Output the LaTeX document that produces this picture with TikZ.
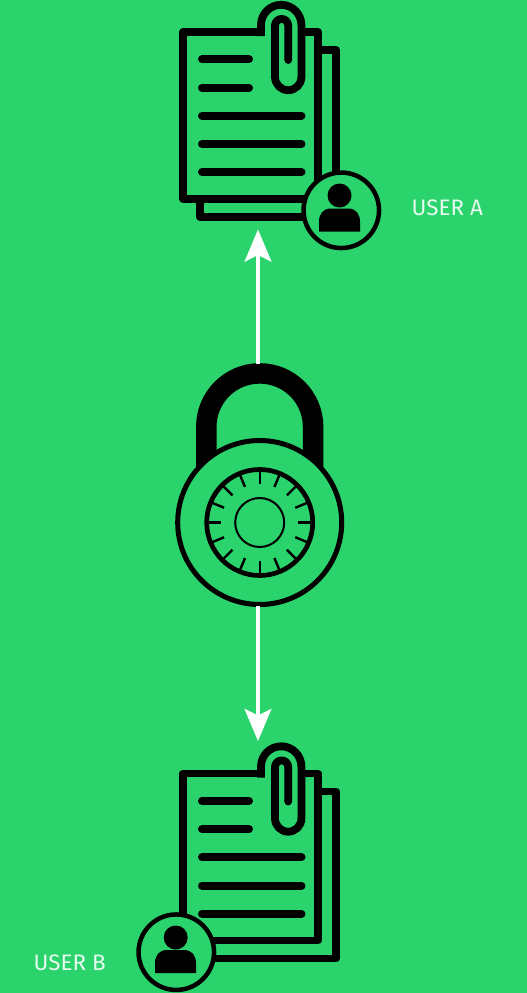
\documentclass[tikz,border=0pt]{standalone}
\usepackage{fontspec}
\setmainfont{Fira Sans}
\definecolor{bg}{HTML}{2AD36B}
\definecolor{lbl}{HTML}{E6FBEF}
\tikzset{
  ink/.style={draw=black,line width=7.5pt,fill=none},
  textline/.style={draw=black,line width=8pt,line cap=round},
  clipwire/.style={draw=black,line width=7.8pt,line join=round},
  badge/.style={circle,draw=black,line width=4.5pt,fill=bg,minimum size=75.5pt,inner sep=0pt},
  headdot/.style={circle,fill=black,minimum size=24pt,inner sep=0pt},
  userlabel/.style={text=lbl,font=\fontsize{22.4}{24}\selectfont,inner sep=0pt},
  flow/.style={draw=white,line width=3.4pt},
  tip/.style={fill=white,draw=none},
  dial/.style={circle,draw=black,fill=bg,inner sep=0pt},
  tick/.style={draw=black,line width=2.4pt}
}
% document icon, #1 = vertical shift
\newcommand{\docicon}[1]{%
  \begin{scope}[yshift=-#1pt]
    % back page
    \draw[ink,line join=round] (318,50) -- (336,50) -- (336,217) -- (200,217) -- (200,199);
    % front page
    \fill[bg] (183,32) rectangle (318,199);
    \draw[ink,line join=round] (261,32) -- (183,32) -- (183,199) -- (318,199) -- (318,32) -- (301,32);
    % text lines
    \draw[textline] (202,59.3) -- (249,59.3);
    \draw[textline] (202,87.7) -- (249,87.7);
    \draw[textline] (202,115.7) -- (301.5,115.7);
    \draw[textline] (202,144) -- (301.5,144);
    \draw[textline] (202,172.3) -- (301.5,172.3);
    % paper clip
    \fill[bg] (265,28) rectangle (297.5,36);
    \draw[clipwire] (261,36) -- (261,25) arc[start angle=180,end angle=360,radius=20.2]
      -- (301.4,77) arc[start angle=0,end angle=180,radius=13.2] -- (275,25.5)
      arc[start angle=180,end angle=360,radius=6.6] -- (288.2,60);
    \fill[black] (288.2,60) circle[radius=3.9];
  \end{scope}%
}
\begin{document}
\begin{tikzpicture}[x=1pt,y=-1pt]
  \useasboundingbox (0,0) rectangle (527,993);
  \fill[bg] (0,0) rectangle (527,993);

  % documents
  \docicon{0}
  \docicon{741.5}
  \node[badge] (badgeA) at (341.3,210.3) {};
  \node[badge] (badgeB) at (176.3,952.2) {};
  % people
  \node[headdot] (headA) at (339.5,195.5) {};
  \fill[black] (319,231.7) -- (319,222) .. controls (319,214) and (323,208.5) .. (331,208.5)
     -- (348,208.5) .. controls (356,208.5) and (360,214) .. (360,222) -- (360,231.7) -- cycle;
  \node[headdot] (headB) at (175.7,937.5) {};
  \fill[black] (155,973.2) -- (155,963.5) .. controls (155,955.5) and (159,950) .. (167,950)
     -- (184,950) .. controls (192,950) and (196,955.5) .. (196,963.5) -- (196,973.2) -- cycle;

  % labels
  \node[userlabel,anchor=west] (labelA) at (411.5,207.7) {USER A};
  \node[userlabel,anchor=west] (labelB) at (33.5,962.7) {USER B};

  % padlock
  \draw[black,line width=20.5pt] (206.3,480) -- (206.3,426.8)
     arc[start angle=180,end angle=360,radius=53.4] -- (313.1,480);
  \node[dial,line width=5pt,minimum size=164pt] (lock) at (259.7,522.5) {};
  \node[dial,line width=4.7pt,minimum size=106pt] (wheel) at (lock.center) {};
  \node[dial,line width=2pt,minimum size=49pt] (hub) at (lock.center) {};
  \foreach \a in {0,22.5,...,337.5}
    \draw[tick] ([shift={(\a:38.5)}]lock.center) -- ([shift={(\a:51)}]lock.center);

  % arrows
  \coordinate (tipA) at (258,229.5);
  \coordinate (tipB) at (258,741);
  \coordinate (lockTop) at (258,364);
  \coordinate (lockBot) at (258,606);
  \draw[flow] (lockTop) -- (258,250);
  \fill[tip] (tipA) -- (271.7,262) -- (258,255) -- (244.3,262) -- cycle;
  \draw[flow] (lockBot) -- (258,720);
  \fill[tip] (tipB) -- (271.7,708.5) -- (258,715.5) -- (244.3,708.5) -- cycle;
\end{tikzpicture}
\end{document}
